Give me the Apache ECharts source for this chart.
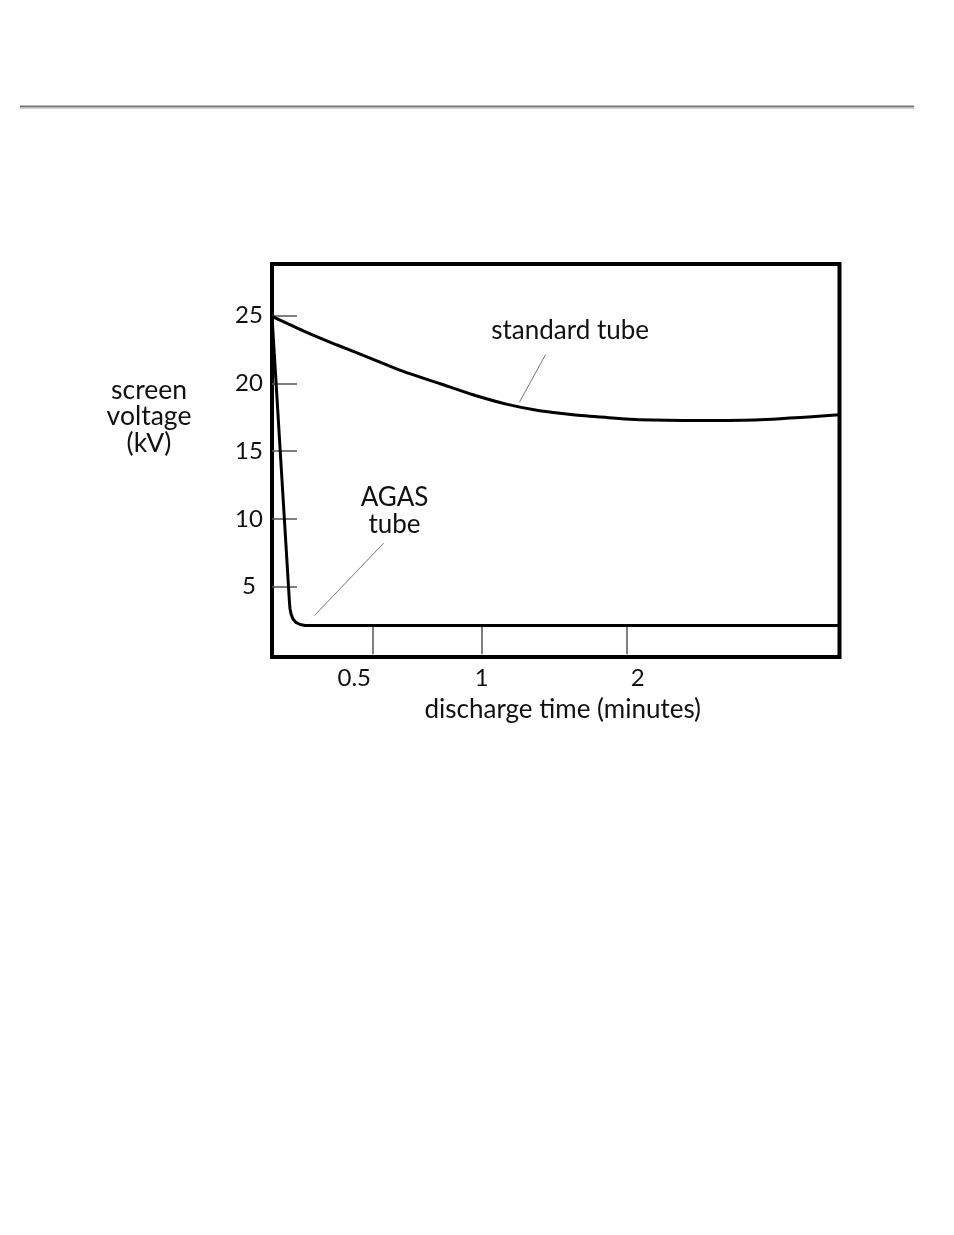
<!DOCTYPE html>
<html>
<head>
<meta charset="utf-8">
<script src="https://cdn.jsdelivr.net/npm/echarts@6/dist/echarts.min.js"></script>
<style>
html,body{margin:0;padding:0;background:#fff;}
#chart{width:954px;height:1235px;}
</style>
</head>
<body>
<div id="chart"></div>
<script>
// ---- data (minutes, kV) ----
const standardTimes = [0, 0.155, 0.32, 0.487, 0.64, 0.81, 0.96, 1.17, 1.40, 1.63, 1.86, 2.09, 2.52, 2.94, 3.5];
const standardVolts = [24.93, 23.87, 22.84, 21.86, 20.87, 19.96, 19.15, 18.46, 17.97, 17.68, 17.48, 17.31, 17.25, 17.31, 17.68];
const agasTimes = [0, 0.086, 0.089, 0.094, 0.104, 0.119, 0.139, 0.164, 3.5];
const agasVolts = [24.93, 4.0, 3.4, 3.0, 2.6, 2.35, 2.2, 2.13, 2.13];
const xTickMinutes = [0.5, 1, 2];
const xTickLabels = ['0.5', '1', '2'];
const yTickValues = [5, 10, 15, 20, 25];
const annotationTexts = ['standard tube', 'AGAS\ntube'];
const annotationTimes = [1.61, 0.60];
const annotationVolts = [23.9, 10.6];
const leaderStandard = [[1.44, 22.1], [1.26, 18.6]];
const leaderAgas = [[0.55, 8.2], [0.21, 2.85]];

// the drawing's time axis is not linear: piecewise scale anchors
const scaleMinutes = [0, 0.5, 1, 2, 3.5];
const scaleFraction = [0, 0.1775, 0.3695, 0.625, 1];
function warp(t) {
  for (let i = 1; i < scaleMinutes.length; i++) {
    if (t <= scaleMinutes[i]) {
      const a = scaleMinutes[i - 1], b = scaleMinutes[i];
      const fa = scaleFraction[i - 1], fb = scaleFraction[i];
      return fa + (t - a) / (b - a) * (fb - fa);
    }
  }
  return 1;
}
const pairs = (ts, vs) => ts.map((t, i) => [warp(t), vs[i]]);

const FONT = 'Lato, "Open Sans", sans-serif';
const INK = '#111';
const chart = echarts.init(document.getElementById('chart'), null, {renderer: 'canvas'});
const tickPos = xTickMinutes.map(warp);
const labelStyleName = ['r', 'c', 'l'];

chart.setOption({
  animation: false,
  backgroundColor: '#fff',
  grid: {left: 272, top: 264, right: 114.5, bottom: 578, show: true, borderColor: '#000', borderWidth: 4, backgroundColor: 'transparent'},
  xAxis: {
    type: 'value', min: 0, max: 1,
    axisLine: {show: false},
    splitLine: {show: false},
    axisTick: {show: true, inside: true, length: 30, customValues: tickPos, lineStyle: {color: '#555', width: 1.5}},
    axisLabel: {
      customValues: tickPos,
      margin: 9,
      formatter: function (v) {
        let best = 0;
        tickPos.forEach((p, i) => { if (Math.abs(p - v) < Math.abs(tickPos[best] - v)) best = i; });
        return '{' + labelStyleName[best] + '|' + xTickLabels[best] + '}';
      },
      rich: {
        r: {fontFamily: FONT, fontSize: 24, color: INK, padding: [0, 37, 0, 0]},
        c: {fontFamily: FONT, fontSize: 24, color: INK},
        l: {fontFamily: FONT, fontSize: 24, color: INK, padding: [0, 0, 0, 22]}
      }
    },
    name: 'discharge time (minutes)',
    nameLocation: 'middle',
    nameGap: 40,
    nameTextStyle: {fontFamily: FONT, fontSize: 26, color: INK, padding: [0, 0, 0, 14]}
  },
  yAxis: {
    type: 'value', min: -0.2, max: 28.8,
    axisLine: {show: false},
    splitLine: {show: false},
    axisTick: {show: true, inside: true, length: 25, customValues: yTickValues, lineStyle: {color: '#555', width: 1.5}},
    axisLabel: {customValues: yTickValues, margin: 23, align: 'center', fontFamily: FONT, fontSize: 24, color: INK}
  },
  graphic: [
    {type: 'line', shape: {x1: 20, y1: 106.5, x2: 914, y2: 106.5}, style: {stroke: '#777', lineWidth: 2}},
    {type: 'line', shape: {x1: 20, y1: 108.5, x2: 914, y2: 108.5}, style: {stroke: '#d0d0d0', lineWidth: 1}},
    {type: 'text', x: 149, y: 416.5, style: {text: 'screen\nvoltage\n(kV)', fontFamily: FONT, fontSize: 26.5, fill: INK, align: 'center', verticalAlign: 'middle', lineHeight: 26.5}}
  ],
  series: [
    {name: 'standard tube', type: 'line', data: pairs(standardTimes, standardVolts), smooth: 0.25, symbol: 'none', lineStyle: {color: '#000', width: 3}, z: 3},
    {name: 'AGAS tube', type: 'line', data: pairs(agasTimes, agasVolts), smooth: false, symbol: 'none', lineStyle: {color: '#000', width: 3, join: 'round'}, z: 3},
    {name: 'leader standard', type: 'line', data: leaderStandard.map(p => [warp(p[0]), p[1]]), symbol: 'none', lineStyle: {color: '#777', width: 1}, silent: true},
    {name: 'leader agas', type: 'line', data: leaderAgas.map(p => [warp(p[0]), p[1]]), symbol: 'none', lineStyle: {color: '#777', width: 1}, silent: true}
  ]
});

// annotation texts placed through the chart's own coordinate conversion
const notes = annotationTexts.map((s, i) => {
  const p = chart.convertToPixel({gridIndex: 0}, [warp(annotationTimes[i]), annotationVolts[i]]);
  return {type: 'text', x: p[0], y: p[1], z: 10,
    style: {text: s, fontFamily: FONT, fontSize: 26, fill: INK, align: 'center', verticalAlign: 'middle', lineHeight: 27}};
});
chart.setOption({graphic: [
  {type: 'line', shape: {x1: 20, y1: 106.5, x2: 914, y2: 106.5}, style: {stroke: '#777', lineWidth: 2}},
  {type: 'line', shape: {x1: 20, y1: 108.5, x2: 914, y2: 108.5}, style: {stroke: '#d0d0d0', lineWidth: 1}},
  {type: 'text', x: 149, y: 416.5, style: {text: 'screen\nvoltage\n(kV)', fontFamily: FONT, fontSize: 26.5, fill: INK, align: 'center', verticalAlign: 'middle', lineHeight: 26.5}}
].concat(notes)}, {replaceMerge: ['graphic']});
</script>
</body>
</html>
